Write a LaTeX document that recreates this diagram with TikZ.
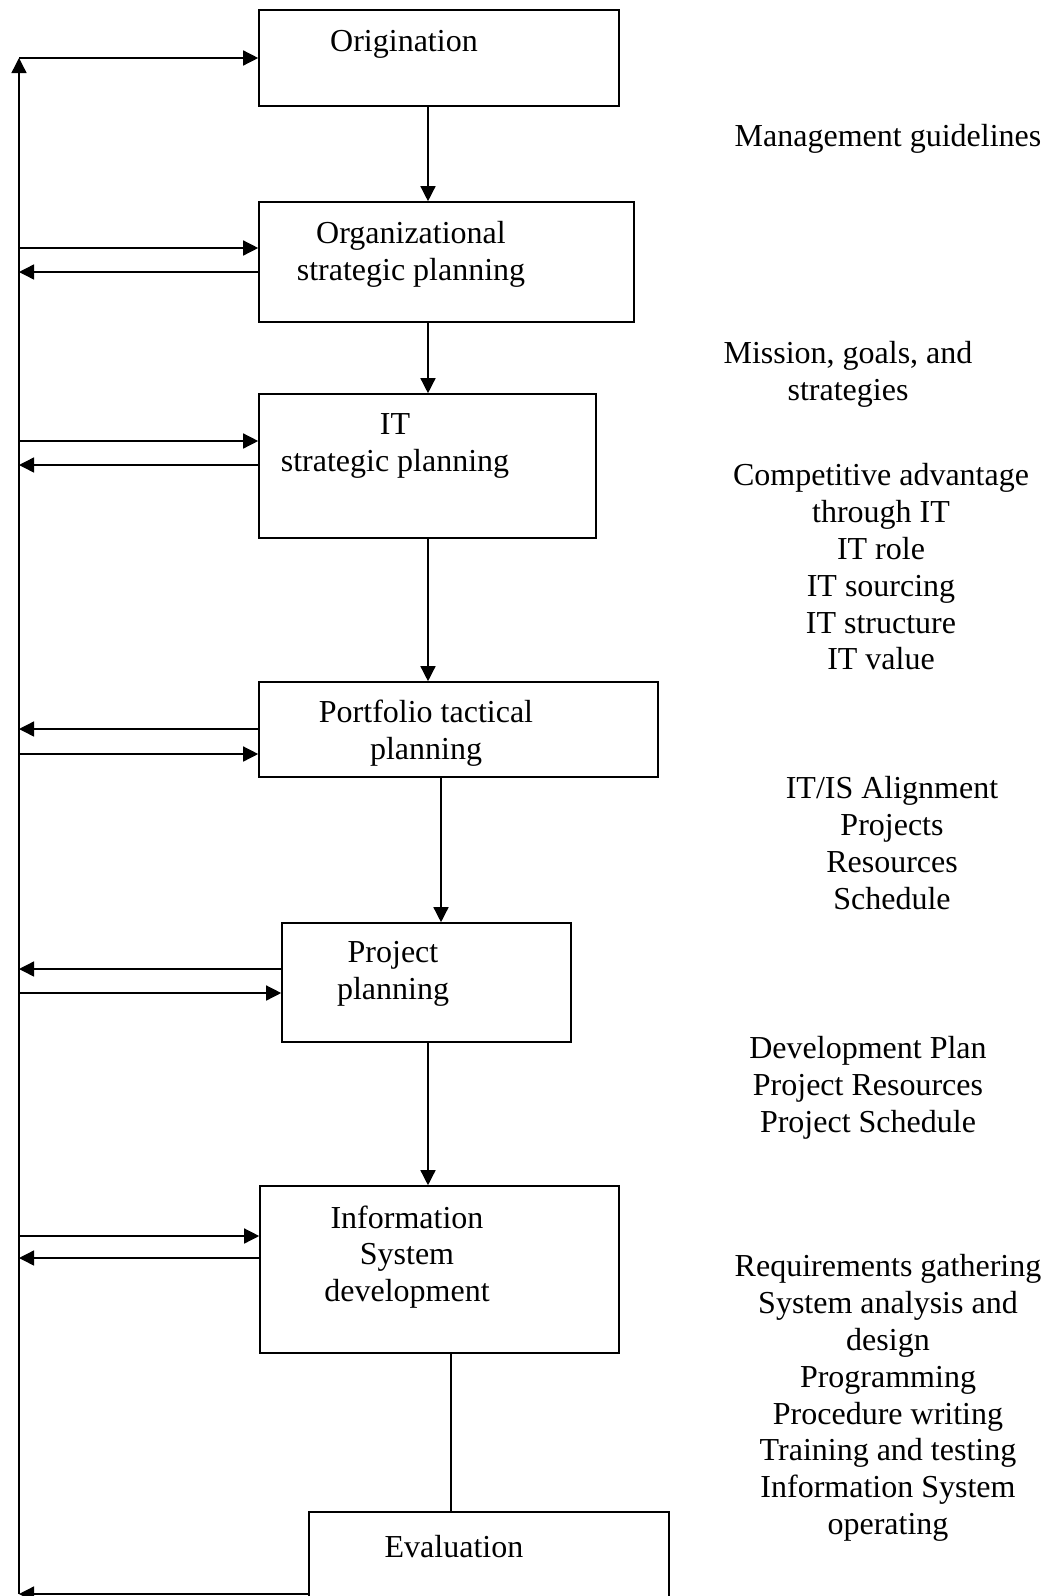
\documentclass[tikz,border=0pt]{standalone}
\usepackage{fontspec}
\setmainfont{Liberation Serif}
\usetikzlibrary{arrows.meta,calc,fit,positioning}

\begin{document}
\begin{tikzpicture}[x=0.5pt, y=-0.5pt, >={Triangle[length=7.5pt,width=7.5pt]},
  every node/.style={font=\fontsize{16}{18.4}\selectfont},
  box/.style={draw, line width=0.8pt, inner sep=0pt},
  txt/.style={align=center, inner sep=0pt},
  link/.style={line width=0.7pt}]
\clip (0,0) rectangle (1058,1596);
\newcommand{\pbox}[3]{\node [box, fit={#2 #3}] (#1) {};}
\pbox{orig}{(259,10)}{(619,106)}
\pbox{org}{(259,202)}{(634,322)}
\pbox{it}{(259,394)}{(596,538)}
\pbox{port}{(259,682)}{(658,777)}
\pbox{proj}{(282,923)}{(571,1042)}
\pbox{info}{(260,1186)}{(619,1353)}
\pbox{eval}{(309,1512)}{(669,1660)}

\node [txt] (origT) at (404,44) {Origination};
\node [txt] (orgT) at (411,254) {Organizational\\strategic planning};
\node [txt] (itT) at (395,446) {IT\\strategic planning};
\node [txt] (portT) at (426,733) {Portfolio tactical\\planning};
\node [txt] (projT) at (393,974) {Project\\planning};
\node [txt] (infoT) at (407,1257) {Information\\System\\development};
\node [txt] (evalT) at (454,1547) {Evaluation};

% outputs of each stage
\node [txt] (guide) at (888,139) {Management guidelines};
\node [txt] (mission) at (848,374) {Mission, goals, and\\strategies};
\node [txt] (advantage) at (881,567) {Competitive advantage\\through IT\\IT role\\IT sourcing\\IT structure\\IT value};
\node [txt] (align) at (892,843) {IT/IS Alignment\\Projects\\Resources\\Schedule};
\node [txt] (devplan) at (868,1088) {Development Plan\\Project Resources\\Project Schedule};
\node [txt] (steps) at (888,1398) {Requirements gathering\\System analysis and\\design\\Programming\\Procedure writing\\Training and testing\\Information System\\operating};

\coordinate (spine) at (428,0);
\coordinate (spine2) at (441,0);
\coordinate (spine3) at (451,0);
\draw [link,->] (orig.south -| spine) -- (org.north -| spine);
\draw [link,->] (org.south -| spine) -- (it.north -| spine);
\draw [link,->] (it.south -| spine) -- (port.north -| spine);
\draw [link,->] (port.south -| spine2) -- (proj.north -| spine2);
\draw [link,->] (proj.south -| spine) -- (info.north -| spine);
\draw [link] (info.south -| spine3) -- (eval.north -| spine3);

% feedback rail on the left
\coordinate (rail) at (19,58);
\coordinate (railend) at (19,1594);
\draw [link,->] (railend) -- (rail);
\draw [link,->] (rail) -- (orig);

\newcommand{\feedback}[3]{
  \path (#1.west) ++(0,#2) coordinate (#1 in);
  \path (#1.west) ++(0,#3) coordinate (#1 out);
  \draw [link,->] (rail |- #1 in) -- (#1 in);
  \draw [link,->] (#1 out) -- (rail |- #1 out);
}
\feedback{org}{-14}{10}
\feedback{it}{-25}{-1}
\feedback{port}{24.5}{-0.5}
\feedback{proj}{10.5}{-13.5}
\feedback{info}{-33.5}{-11.5}

\path (eval.west) ++(0,8) coordinate (eval out);
\draw [link,->] (eval out) -- (railend);
\end{tikzpicture}
\end{document}
